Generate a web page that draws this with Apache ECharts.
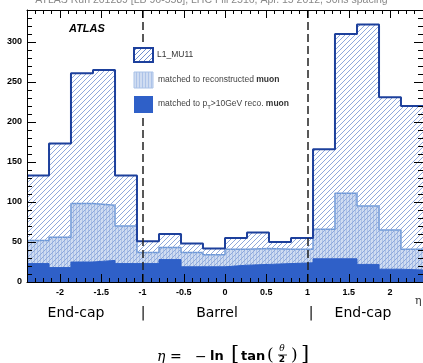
<!DOCTYPE html>
<html>
<head>
<meta charset="utf-8">
<script src="https://cdn.jsdelivr.net/npm/echarts@6/dist/echarts.min.js"></script>
<style>
  html, body { margin: 0; padding: 0; background: #fff; }
  #chart { width: 423px; height: 363px; }
</style>
</head>
<body>
<div id="chart"></div>
<script>
// bin edges in eta (18 bins)
const binEdges = [-2.4, -2.133, -1.867, -1.6, -1.333, -1.067, -0.8, -0.533, -0.267, 0,
  0.267, 0.533, 0.8, 1.067, 1.333, 1.6, 1.867, 2.133, 2.4];
const l1Counts = [133, 173, 261, 265, 133, 51, 60, 48, 42, 55, 62, 50, 55, 166, 310, 322, 231, 220];
const recoCounts = [52, 56, 98, 96, 70, 37, 43, 37, 34, 41, 42, 41, 41, 66, 111, 95, 65, 41];
const ptCounts = [23, 18, 25, 27, 23, 23, 28, 19, 19, 21, 22, 23, 24, 29, 29, 22, 16, 15];
const xTickValues = [-2, -1.5, -1, -0.5, 0, 0.5, 1, 1.5, 2];
const regionBounds = [-1, 1];
const seriesNames = ['L1_MU11', 'matched to reconstructed muon', 'matched to p_T>10GeV reco. muon'];
const titleText = 'ATLAS Run 201289 [LB 96-558], LHC Fill 2516, Apr. 15 2012, 50ns spacing';

function makeHatch(color, size, bg) {
  const c = document.createElement('canvas');
  c.width = size; c.height = size;
  const g = c.getContext('2d');
  if (bg) { g.fillStyle = bg; g.fillRect(0, 0, size, size); }
  g.strokeStyle = color;
  g.lineWidth = 1;
  g.beginPath();
  g.moveTo(0, size); g.lineTo(size, 0);
  g.moveTo(-1, 1); g.lineTo(1, -1);
  g.moveTo(size - 1, size + 1); g.lineTo(size + 1, size - 1);
  g.stroke();
  return { image: c, repeat: 'repeat' };
}

function makeDots() {
  const c = document.createElement('canvas');
  c.width = 3; c.height = 3;
  const g = c.getContext('2d');
  g.fillStyle = '#cfdcf1';
  g.fillRect(0, 0, 3, 3);
  g.fillStyle = '#adc3e8';
  g.fillRect(1, 0, 1, 3);
  return { image: c, repeat: 'repeat' };
}

// histogram as step line: left edge of each bin + last right edge
function stepData(counts) {
  const pts = counts.map((v, i) => [binEdges[i], v]);
  pts.push([binEdges[binEdges.length - 1], counts[counts.length - 1]]);
  return pts;
}

const hatch = makeHatch('#8ea8dc', 5);
const hatchLegend = makeHatch('#6f8fd0', 5, '#fff');
const dots = makeDots();
const darkBlue = '#1d409c';
const midBlue = '#6f9ad8';
const solidBlue = '#2f60c8';

const chart = echarts.init(document.getElementById('chart'));

const axisFont = { fontFamily: 'Liberation Sans', fontWeight: 'bold', fontSize: 9, color: '#000' };
const tickStyle = { color: '#000', width: 1 };

function xAxisDef(position, major) {
  return {
    type: 'value', min: -2.4, max: 2.4, position: position, z: 20,
    interval: major ? undefined : 0.1,
    axisLine: { show: major, onZero: false, lineStyle: { color: '#000', width: 1 } },
    axisTick: major
      ? { inside: true, length: 8, customValues: xTickValues, lineStyle: tickStyle }
      : { inside: true, length: 4, lineStyle: tickStyle },
    axisLabel: (major && position === 'bottom')
      ? Object.assign({ margin: 6, customValues: xTickValues }, axisFont)
      : { show: false },
    splitLine: { show: false }
  };
}

function yAxisDef(position) {
  return {
    type: 'value', min: 0, max: 340, interval: 50, position: position, z: 20,
    axisLine: { show: true, onZero: false, lineStyle: { color: '#000', width: 1 } },
    axisTick: { inside: true, length: 9, lineStyle: tickStyle },
    minorTick: { show: true, splitNumber: 5, length: 5, lineStyle: tickStyle },
    axisLabel: position === 'left'
      ? Object.assign({ margin: 5, showMaxLabel: false }, axisFont)
      : { show: false },
    splitLine: { show: false }
  };
}

const option = {
  animation: false,
  backgroundColor: '#fff',
  grid: { left: 27, right: 0, top: 10, bottom: 81 },
  xAxis: [xAxisDef('bottom', true), xAxisDef('bottom', false), xAxisDef('top', true), xAxisDef('top', false)],
  yAxis: [yAxisDef('left'), yAxisDef('right')],
  series: [
    {
      name: seriesNames[1], type: 'line', step: 'end', symbol: 'none', z: 2,
      data: stepData(recoCounts),
      lineStyle: { color: midBlue, width: 1.5 },
      areaStyle: { color: dots, opacity: 1 }
    },
    {
      name: seriesNames[0], type: 'line', step: 'end', symbol: 'none', z: 3,
      data: stepData(l1Counts),
      lineStyle: { color: darkBlue, width: 2 },
      areaStyle: { color: hatch, opacity: 1 }
    },
    {
      name: seriesNames[2], type: 'line', step: 'end', symbol: 'none', z: 4,
      data: stepData(ptCounts),
      lineStyle: { color: solidBlue, width: 1 },
      areaStyle: { color: solidBlue, opacity: 1 },
      markLine: {
        silent: true, symbol: 'none', z: 10,
        label: { show: false },
        lineStyle: { color: '#222', width: 1.5, type: [8, 4] },
        data: regionBounds.map(v => ({ xAxis: v }))
      }
    }
  ],
  graphic: [
    { type: 'text', left: 'center', top: -5, style: { text: titleText, font: '10.5px "Liberation Sans"', fill: '#888' } },
    { type: 'text', left: 69, top: 23, style: { text: 'ATLAS', font: 'italic bold 11px "Liberation Sans"', fill: '#000' } },
    // legend (white panel hides the dashed line behind it)
    { type: 'rect', z: 100, shape: { x: 129, y: 44, width: 175, height: 74 }, style: { fill: '#fff' } },
    { type: 'rect', z: 101, shape: { x: 134, y: 48, width: 19, height: 14 }, style: { fill: hatchLegend, stroke: darkBlue, lineWidth: 2 } },
    { type: 'text', z: 101, x: 157, y: 55, style: { text: seriesNames[0], font: '8.5px "Liberation Sans"', fill: '#333', verticalAlign: 'middle' } },
    { type: 'rect', z: 101, shape: { x: 134, y: 72, width: 19, height: 16 }, style: { fill: dots, stroke: '#a9c2e8', lineWidth: 1 } },
    { type: 'text', z: 101, x: 158, y: 80, style: {
        text: '{n|matched to reconstructed }{b|muon}', verticalAlign: 'middle',
        rich: { n: { font: '8.5px "Liberation Sans"', fill: '#444' }, b: { font: 'bold 8.5px "Liberation Sans"', fill: '#333' } } } },
    { type: 'rect', z: 101, shape: { x: 134, y: 96, width: 19, height: 17 }, style: { fill: solidBlue } },
    { type: 'text', z: 101, x: 158, y: 104, style: {
        text: '{n|matched to p}{s|T}{n|>10GeV reco. }{b|muon}', verticalAlign: 'middle',
        rich: {
          n: { font: '8.5px "Liberation Sans"', fill: '#444' },
          s: { font: '6px "Liberation Sans"', fill: '#444', padding: [6, 0, 0, 0] },
          b: { font: 'bold 8.5px "Liberation Sans"', fill: '#333' } } } },
    // axis title
    { type: 'text', x: 415, y: 296, style: { text: 'η', font: '11px "DejaVu Serif"', fill: '#333' } },
    // region labels
    { type: 'text', x: 76, y: 313, style: { text: 'End-cap', font: '14px "DejaVu Sans"', fill: '#000', align: 'center', verticalAlign: 'middle' } },
    { type: 'text', x: 143, y: 313, style: { text: '|', font: '14px "DejaVu Sans"', fill: '#000', align: 'center', verticalAlign: 'middle' } },
    { type: 'text', x: 217, y: 313, style: { text: 'Barrel', font: '14px "DejaVu Sans"', fill: '#000', align: 'center', verticalAlign: 'middle' } },
    { type: 'text', x: 311, y: 313, style: { text: '|', font: '14px "DejaVu Sans"', fill: '#000', align: 'center', verticalAlign: 'middle' } },
    { type: 'text', x: 363, y: 313, style: { text: 'End-cap', font: '14px "DejaVu Sans"', fill: '#000', align: 'center', verticalAlign: 'middle' } },
    // formula
    { type: 'text', x: 157, y: 357, style: { text: 'η', font: 'italic 14px "DejaVu Serif"', fill: '#000', verticalAlign: 'middle' } },
    { type: 'text', x: 170, y: 357, style: { text: '=', font: '14px "DejaVu Serif"', fill: '#000', verticalAlign: 'middle' } },
    { type: 'text', x: 195, y: 357, style: { text: '−', font: '14px "DejaVu Serif"', fill: '#000', verticalAlign: 'middle' } },
    { type: 'text', x: 210, y: 357, style: { text: 'ln', font: 'bold 13px "DejaVu Sans"', fill: '#000', verticalAlign: 'middle' } },
    { type: 'text', x: 231, y: 355, style: { text: '[', font: '21px "DejaVu Serif"', fill: '#000', verticalAlign: 'middle' } },
    { type: 'text', x: 241, y: 357, style: { text: 'tan', font: 'bold 13px "DejaVu Sans"', fill: '#000', verticalAlign: 'middle' } },
    { type: 'text', x: 267, y: 356, style: { text: '(', font: '17px "DejaVu Serif"', fill: '#000', verticalAlign: 'middle' } },
    { type: 'text', x: 282, y: 349, style: { text: 'θ', font: 'italic 9px "DejaVu Serif"', fill: '#000', align: 'center', verticalAlign: 'middle' } },
    { type: 'line', shape: { x1: 278, y1: 355, x2: 287, y2: 355 }, style: { stroke: '#000', lineWidth: 0.8 } },
    { type: 'text', x: 282, y: 360, style: { text: '2', font: 'bold 9px "DejaVu Sans"', fill: '#000', align: 'center', verticalAlign: 'middle' } },
    { type: 'text', x: 291, y: 356, style: { text: ')', font: '17px "DejaVu Serif"', fill: '#000', verticalAlign: 'middle' } },
    { type: 'text', x: 301, y: 355, style: { text: ']', font: '21px "DejaVu Serif"', fill: '#000', verticalAlign: 'middle' } }
  ]
};

chart.setOption(option);
</script>
</body>
</html>
